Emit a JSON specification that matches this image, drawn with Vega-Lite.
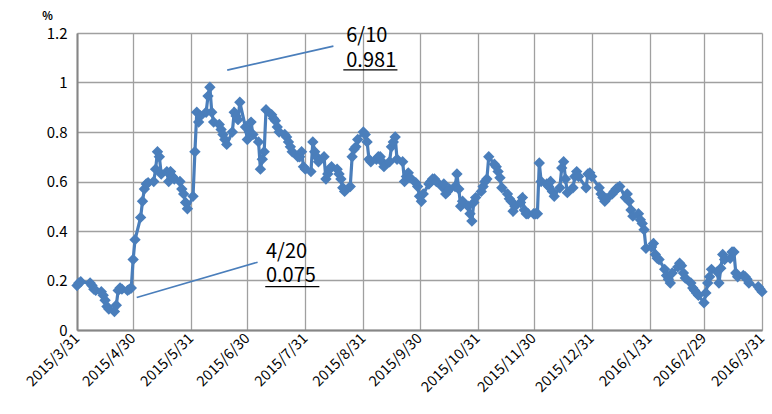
{
"$schema":"https://vega.github.io/schema/vega-lite/v6.json",
"width":685,"height":297,
"autosize":{"type":"none"},
"padding":{"left":77,"top":33,"right":10,"bottom":84},
"background":"white",
"config":{"font":"Noto Sans CJK JP","view":{"stroke":null}},
"datasets":{
"series":[
{"d":"2015-03-31","v":0.18},{"d":"2015-04-01","v":0.19},{"d":"2015-04-02","v":0.195},{"d":"2015-04-07","v":0.19},{"d":"2015-04-08","v":0.18},{"d":"2015-04-09","v":0.165},{"d":"2015-04-10","v":0.16},{"d":"2015-04-13","v":0.155},{"d":"2015-04-14","v":0.14},{"d":"2015-04-15","v":0.12},{"d":"2015-04-16","v":0.095},{"d":"2015-04-17","v":0.085},{"d":"2015-04-20","v":0.075},{"d":"2015-04-21","v":0.10},{"d":"2015-04-22","v":0.16},{"d":"2015-04-23","v":0.17},{"d":"2015-04-24","v":0.165},{"d":"2015-04-27","v":0.16},{"d":"2015-04-28","v":0.165},{"d":"2015-04-29","v":0.17},{"d":"2015-04-30","v":0.285},
{"d":"2015-05-01","v":0.365},{"d":"2015-05-04","v":0.455},{"d":"2015-05-05","v":0.52},{"d":"2015-05-06","v":0.57},{"d":"2015-05-07","v":0.59},{"d":"2015-05-08","v":0.595},{"d":"2015-05-11","v":0.60},{"d":"2015-05-12","v":0.65},{"d":"2015-05-13","v":0.72},{"d":"2015-05-14","v":0.70},{"d":"2015-05-15","v":0.63},{"d":"2015-05-18","v":0.64},{"d":"2015-05-19","v":0.60},{"d":"2015-05-20","v":0.64},{"d":"2015-05-21","v":0.62},{"d":"2015-05-22","v":0.61},{"d":"2015-05-25","v":0.60},{"d":"2015-05-26","v":0.57},{"d":"2015-05-27","v":0.55},{"d":"2015-05-28","v":0.515},{"d":"2015-05-29","v":0.49},
{"d":"2015-06-01","v":0.54},{"d":"2015-06-02","v":0.72},{"d":"2015-06-03","v":0.88},{"d":"2015-06-04","v":0.84},{"d":"2015-06-05","v":0.865},{"d":"2015-06-08","v":0.88},{"d":"2015-06-09","v":0.945},{"d":"2015-06-10","v":0.981},{"d":"2015-06-11","v":0.88},{"d":"2015-06-12","v":0.84},{"d":"2015-06-15","v":0.83},{"d":"2015-06-16","v":0.81},{"d":"2015-06-17","v":0.79},{"d":"2015-06-18","v":0.77},{"d":"2015-06-19","v":0.75},{"d":"2015-06-22","v":0.80},{"d":"2015-06-23","v":0.88},{"d":"2015-06-24","v":0.865},{"d":"2015-06-25","v":0.85},{"d":"2015-06-26","v":0.92},{"d":"2015-06-29","v":0.82},{"d":"2015-06-30","v":0.77},
{"d":"2015-07-01","v":0.80},{"d":"2015-07-02","v":0.84},{"d":"2015-07-03","v":0.79},{"d":"2015-07-06","v":0.76},{"d":"2015-07-07","v":0.65},{"d":"2015-07-08","v":0.69},{"d":"2015-07-09","v":0.72},{"d":"2015-07-10","v":0.89},{"d":"2015-07-13","v":0.87},{"d":"2015-07-14","v":0.855},{"d":"2015-07-15","v":0.845},{"d":"2015-07-16","v":0.82},{"d":"2015-07-17","v":0.80},{"d":"2015-07-20","v":0.79},{"d":"2015-07-21","v":0.78},{"d":"2015-07-22","v":0.76},{"d":"2015-07-23","v":0.74},{"d":"2015-07-24","v":0.72},{"d":"2015-07-27","v":0.70},{"d":"2015-07-28","v":0.70},{"d":"2015-07-29","v":0.72},{"d":"2015-07-30","v":0.66},{"d":"2015-07-31","v":0.65},
{"d":"2015-08-03","v":0.64},{"d":"2015-08-04","v":0.76},{"d":"2015-08-05","v":0.72},{"d":"2015-08-06","v":0.70},{"d":"2015-08-07","v":0.68},{"d":"2015-08-10","v":0.70},{"d":"2015-08-11","v":0.61},{"d":"2015-08-12","v":0.63},{"d":"2015-08-13","v":0.65},{"d":"2015-08-14","v":0.66},{"d":"2015-08-17","v":0.65},{"d":"2015-08-18","v":0.63},{"d":"2015-08-19","v":0.61},{"d":"2015-08-20","v":0.575},{"d":"2015-08-21","v":0.56},{"d":"2015-08-24","v":0.58},{"d":"2015-08-25","v":0.70},{"d":"2015-08-26","v":0.73},{"d":"2015-08-27","v":0.74},{"d":"2015-08-28","v":0.77},{"d":"2015-08-31","v":0.80},
{"d":"2015-09-01","v":0.79},{"d":"2015-09-02","v":0.76},{"d":"2015-09-03","v":0.69},{"d":"2015-09-04","v":0.68},{"d":"2015-09-07","v":0.69},{"d":"2015-09-08","v":0.70},{"d":"2015-09-09","v":0.70},{"d":"2015-09-10","v":0.68},{"d":"2015-09-11","v":0.66},{"d":"2015-09-14","v":0.68},{"d":"2015-09-15","v":0.74},{"d":"2015-09-16","v":0.76},{"d":"2015-09-17","v":0.78},{"d":"2015-09-18","v":0.69},{"d":"2015-09-21","v":0.68},{"d":"2015-09-22","v":0.60},{"d":"2015-09-23","v":0.62},{"d":"2015-09-24","v":0.635},{"d":"2015-09-25","v":0.615},{"d":"2015-09-28","v":0.595},{"d":"2015-09-29","v":0.58},{"d":"2015-09-30","v":0.54},
{"d":"2015-10-01","v":0.52},{"d":"2015-10-02","v":0.55},{"d":"2015-10-05","v":0.59},{"d":"2015-10-06","v":0.60},{"d":"2015-10-07","v":0.61},{"d":"2015-10-08","v":0.61},{"d":"2015-10-09","v":0.60},{"d":"2015-10-12","v":0.58},{"d":"2015-10-13","v":0.59},{"d":"2015-10-14","v":0.55},{"d":"2015-10-15","v":0.56},{"d":"2015-10-16","v":0.57},{"d":"2015-10-19","v":0.58},{"d":"2015-10-20","v":0.63},{"d":"2015-10-21","v":0.57},{"d":"2015-10-22","v":0.50},{"d":"2015-10-23","v":0.52},{"d":"2015-10-26","v":0.50},{"d":"2015-10-27","v":0.47},{"d":"2015-10-28","v":0.44},{"d":"2015-10-29","v":0.515},{"d":"2015-10-30","v":0.535},
{"d":"2015-11-02","v":0.56},{"d":"2015-11-03","v":0.58},{"d":"2015-11-04","v":0.60},{"d":"2015-11-05","v":0.61},{"d":"2015-11-06","v":0.70},{"d":"2015-11-09","v":0.67},{"d":"2015-11-10","v":0.66},{"d":"2015-11-11","v":0.64},{"d":"2015-11-12","v":0.615},{"d":"2015-11-13","v":0.575},{"d":"2015-11-16","v":0.55},{"d":"2015-11-17","v":0.53},{"d":"2015-11-18","v":0.52},{"d":"2015-11-19","v":0.48},{"d":"2015-11-20","v":0.50},{"d":"2015-11-23","v":0.515},{"d":"2015-11-24","v":0.535},{"d":"2015-11-25","v":0.485},{"d":"2015-11-26","v":0.47},{"d":"2015-11-27","v":0.47},{"d":"2015-11-30","v":0.47},
{"d":"2015-12-01","v":0.47},{"d":"2015-12-02","v":0.47},{"d":"2015-12-03","v":0.675},{"d":"2015-12-04","v":0.60},{"d":"2015-12-07","v":0.59},{"d":"2015-12-08","v":0.58},{"d":"2015-12-09","v":0.60},{"d":"2015-12-10","v":0.56},{"d":"2015-12-11","v":0.54},{"d":"2015-12-14","v":0.575},{"d":"2015-12-15","v":0.655},{"d":"2015-12-16","v":0.68},{"d":"2015-12-17","v":0.61},{"d":"2015-12-18","v":0.555},{"d":"2015-12-21","v":0.575},{"d":"2015-12-22","v":0.62},{"d":"2015-12-23","v":0.64},{"d":"2015-12-24","v":0.62},{"d":"2015-12-28","v":0.575},{"d":"2015-12-29","v":0.63},{"d":"2015-12-30","v":0.635},{"d":"2015-12-31","v":0.62},
{"d":"2016-01-04","v":0.575},{"d":"2016-01-05","v":0.55},{"d":"2016-01-06","v":0.535},{"d":"2016-01-07","v":0.52},{"d":"2016-01-08","v":0.53},{"d":"2016-01-11","v":0.55},{"d":"2016-01-12","v":0.56},{"d":"2016-01-13","v":0.57},{"d":"2016-01-14","v":0.575},{"d":"2016-01-15","v":0.58},{"d":"2016-01-18","v":0.535},{"d":"2016-01-19","v":0.55},{"d":"2016-01-20","v":0.52},{"d":"2016-01-21","v":0.485},{"d":"2016-01-22","v":0.46},{"d":"2016-01-25","v":0.47},{"d":"2016-01-26","v":0.445},{"d":"2016-01-27","v":0.43},{"d":"2016-01-28","v":0.405},{"d":"2016-01-29","v":0.33},
{"d":"2016-02-01","v":0.335},{"d":"2016-02-02","v":0.35},{"d":"2016-02-03","v":0.305},{"d":"2016-02-04","v":0.29},{"d":"2016-02-05","v":0.285},{"d":"2016-02-08","v":0.245},{"d":"2016-02-09","v":0.22},{"d":"2016-02-10","v":0.205},{"d":"2016-02-11","v":0.19},{"d":"2016-02-12","v":0.23},{"d":"2016-02-15","v":0.255},{"d":"2016-02-16","v":0.27},{"d":"2016-02-17","v":0.26},{"d":"2016-02-18","v":0.23},{"d":"2016-02-19","v":0.21},{"d":"2016-02-22","v":0.19},{"d":"2016-02-23","v":0.17},{"d":"2016-02-24","v":0.16},{"d":"2016-02-25","v":0.15},{"d":"2016-02-26","v":0.14},{"d":"2016-02-29","v":0.11},
{"d":"2016-03-01","v":0.15},{"d":"2016-03-02","v":0.19},{"d":"2016-03-03","v":0.215},{"d":"2016-03-04","v":0.245},{"d":"2016-03-07","v":0.235},{"d":"2016-03-08","v":0.19},{"d":"2016-03-09","v":0.25},{"d":"2016-03-10","v":0.305},{"d":"2016-03-11","v":0.285},{"d":"2016-03-14","v":0.29},{"d":"2016-03-15","v":0.315},{"d":"2016-03-16","v":0.315},{"d":"2016-03-17","v":0.23},{"d":"2016-03-18","v":0.215},{"d":"2016-03-21","v":0.22},{"d":"2016-03-22","v":0.215},{"d":"2016-03-23","v":0.205},{"d":"2016-03-24","v":0.19},{"d":"2016-03-29","v":0.175},{"d":"2016-03-30","v":0.165},{"d":"2016-03-31","v":0.155}
],
"leaders":[
{"d":"2015-06-19T06:00:00Z","v":1.05,"d2":"2015-08-15T00:00:00Z","v2":1.147},
{"d":"2015-05-01T22:00:00Z","v":0.131,"d2":"2015-07-05T12:00:00Z","v2":0.274}
],
"underlines":[
{"d":"2015-08-20T07:00:00Z","v":1.051,"d2":"2015-09-18T05:00:00Z"},
{"d":"2015-07-09T14:00:00Z","v":0.1755,"d2":"2015-08-07T12:00:00Z"}
],
"notes":[
{"d":"2015-08-21T21:00:00Z","v":1.1646,"label":"6/10"},
{"d":"2015-08-21T21:00:00Z","v":1.062,"label":"0.981"},
{"d":"2015-07-09T23:00:00Z","v":0.2906,"label":"4/20"},
{"d":"2015-07-09T23:00:00Z","v":0.1958,"label":"0.075"}
]
},
"layer":[
{"data":{"name":"series"},
 "mark":{"type":"line","color":"#4A7EBB","strokeWidth":3.2},
 "encoding":{
  "x":{"field":"d","type":"temporal","title":null,
   "scale":{"type":"utc","domain":[{"year":2015,"month":3,"date":31,"utc":true},{"year":2016,"month":3,"date":31,"utc":true}]},
   "axis":{"values":[{"year":2015,"month":3,"date":31,"utc":true},{"year":2015,"month":4,"date":30,"utc":true},{"year":2015,"month":5,"date":31,"utc":true},{"year":2015,"month":6,"date":30,"utc":true},{"year":2015,"month":7,"date":31,"utc":true},{"year":2015,"month":8,"date":31,"utc":true},{"year":2015,"month":9,"date":30,"utc":true},{"year":2015,"month":10,"date":31,"utc":true},{"year":2015,"month":11,"date":30,"utc":true},{"year":2015,"month":12,"date":31,"utc":true},{"year":2016,"month":1,"date":31,"utc":true},{"year":2016,"month":2,"date":29,"utc":true},{"year":2016,"month":3,"date":31,"utc":true}],
    "format":"%Y/%-m/%-d","labelAngle":-45,"labelAlign":"right","labelBaseline":"middle","labelPadding":6,
    "labelFontSize":14.5,"labelColor":"#000000","labelOverlap":false,"labelFlush":false,"labelBound":false,
    "ticks":false,"grid":true,"gridColor":"#A0A0A0","gridWidth":1.3,"domainColor":"#868686","domainWidth":2}},
  "y":{"field":"v","type":"quantitative",
   "scale":{"domain":[0,1.2],"nice":false,"zero":true},
   "axis":{"values":[0,0.2,0.4,0.6,0.8,1,1.2],"format":"~g","title":"%","titleAngle":0,"titleAlign":"center","titleBaseline":"middle","titleX":-30,"titleY":-17,"titleFontSize":11,"titleFontWeight":"bold","titleColor":"#000000",
    "labelFontSize":15,"labelColor":"#000000","labelPadding":10,"ticks":false,"grid":true,"gridColor":"#A0A0A0","gridWidth":1.3,"domainColor":"#868686","domainWidth":2}}
 }},
{"data":{"name":"series"},
 "mark":{"type":"point","shape":"diamond","filled":true,"size":130,"color":"#4A7EBB","opacity":1},
 "encoding":{"x":{"field":"d","type":"temporal"},"y":{"field":"v","type":"quantitative"}}},
{"data":{"name":"leaders"},
 "mark":{"type":"rule","color":"#4A7EBB","strokeWidth":1.6},
 "encoding":{"x":{"field":"d","type":"temporal"},"y":{"field":"v","type":"quantitative"},"x2":{"field":"d2"},"y2":{"field":"v2"}}},
{"data":{"name":"underlines"},
 "mark":{"type":"rule","color":"#000000","strokeWidth":1.3},
 "encoding":{"x":{"field":"d","type":"temporal"},"y":{"field":"v","type":"quantitative"},"x2":{"field":"d2"}}},
{"data":{"name":"notes"},
 "mark":{"type":"text","align":"left","baseline":"alphabetic","fontSize":20,"color":"#000000","font":"Noto Sans CJK JP"},
 "encoding":{"x":{"field":"d","type":"temporal"},"y":{"field":"v","type":"quantitative"},"text":{"field":"label"}}}
]
}
